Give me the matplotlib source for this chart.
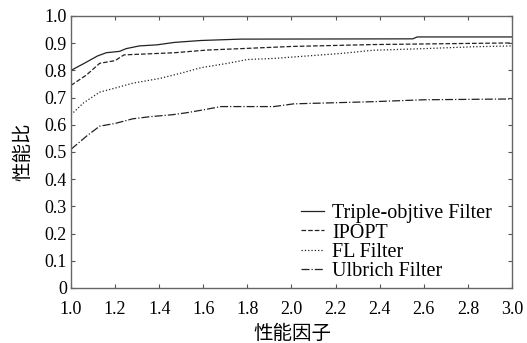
import matplotlib.pyplot as plt
import numpy as np

# performance profile curves
x_triple = [1.0, 1.06, 1.12, 1.16, 1.22, 1.25, 1.31, 1.39, 1.47, 1.59, 1.77, 2.55, 2.57, 3.0]
y_triple = [0.80, 0.826, 0.853, 0.865, 0.87, 0.88, 0.89, 0.894, 0.903, 0.91, 0.915, 0.916, 0.923, 0.923]

x_ipopt = [1.0, 1.07, 1.13, 1.2, 1.24, 1.47, 1.62, 1.77, 2.0, 2.37, 3.0]
y_ipopt = [0.745, 0.783, 0.826, 0.836, 0.857, 0.865, 0.875, 0.88, 0.888, 0.895, 0.901]

x_fl = [1.0, 1.056, 1.13, 1.2, 1.28, 1.4, 1.5, 1.59, 1.71, 1.8, 1.92, 2.07, 2.22, 2.37, 2.6, 2.83, 3.0]
y_fl = [0.637, 0.68, 0.72, 0.735, 0.753, 0.77, 0.79, 0.81, 0.826, 0.84, 0.844, 0.853, 0.862, 0.874, 0.88, 0.887, 0.89]

x_ulb = [1.0, 1.07, 1.13, 1.2, 1.28, 1.36, 1.46, 1.53, 1.6, 1.68, 1.92, 2.01, 2.37, 2.6, 3.0]
y_ulb = [0.51, 0.558, 0.595, 0.605, 0.622, 0.63, 0.637, 0.645, 0.655, 0.667, 0.667, 0.677, 0.685, 0.692, 0.695]

LABELS = ["Triple-objtive Filter", "IPOPT", "FL Filter", "Ulbrich Filter"]
STYLES = ["-", "--", ":", "-."]

plt.rcParams["font.family"] = ["Liberation Serif", "Noto Sans CJK SC"]

fig = plt.figure(figsize=(5.27, 3.43), dpi=100)
ax = fig.add_axes([71 / 527, 1 - 288 / 343, 441 / 527, 272 / 343])

series = [(x_triple, y_triple), (x_ipopt, y_ipopt), (x_fl, y_fl), (x_ulb, y_ulb)]
for (xs, ys), lab, ls in zip(series, LABELS, STYLES):
    ax.plot(xs, ys, ls, color="#222222", linewidth=0.9, label=lab)

ax.set_xlim(1.0, 3.0)
ax.set_ylim(0, 1.0)
ax.set_xticks(np.arange(1.0, 3.01, 0.2))
ax.set_xticklabels([f"{v:.1f}" for v in np.arange(1.0, 3.01, 0.2)])
ax.set_yticks(np.arange(0, 1.01, 0.1))
ax.set_yticklabels(["0"] + [f"{v:.1f}" for v in np.arange(0.1, 1.01, 0.1)])
ax.tick_params(direction="in", top=True, right=True, length=3,
               labelsize=13, color="#555555")
ax.tick_params(axis="x", pad=9.5)
ax.tick_params(axis="y", pad=3)
for sp in ax.spines.values():
    sp.set_color("#666666")
    sp.set_linewidth(1.0)

ax.set_xlabel("性能因子", fontsize=14, family="Noto Sans CJK SC")
ax.xaxis.label.set_va("center")
ax.xaxis.set_label_coords(0.501, -0.168)
ax.set_ylabel("性能比", fontsize=14, family="Noto Sans CJK SC")
ax.yaxis.label.set_va("center")
ax.yaxis.set_label_coords(-0.11, 0.5)

ax.legend(loc="lower right", bbox_to_anchor=(0.987, -0.025), frameon=False,
          fontsize=14.5, handlelength=1.15, handletextpad=0.4,
          labelspacing=0.0, borderpad=0.2)

fig.savefig("out.png", dpi=100)
